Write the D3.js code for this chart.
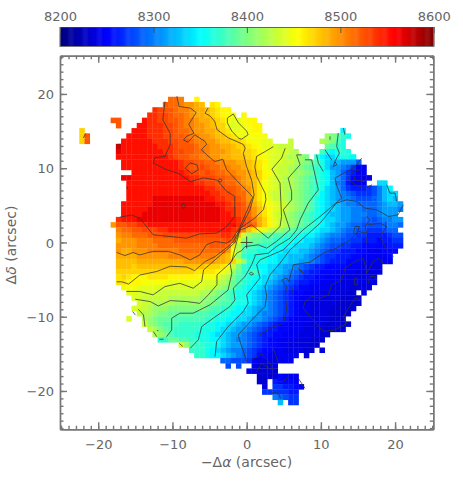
<!DOCTYPE html>
<html>
<head>
<meta charset="utf-8">
<script src="https://d3js.org/d3.v7.min.js"></script>
<style>
  html, body { margin: 0; padding: 0; background: #fff; }
  text { font-family: "DejaVu Sans", sans-serif; font-size: 13px; fill: #666; }
  .title { font-size: 14px; }
</style>
</head>
<body>
<div id="chart"></div>
<script>
//velocity scale of the colour bar
var barTicks = [8200, 8300, 8400, 8500, 8600];
var barDomain = [8200, 8600];
//jet colours and where they sit on the bar (0 to 1)
var jetStops = [0, 0.125, 0.375, 0.5, 0.635, 0.895, 1];
var jetColors = ["#00007f", "#0000ff", "#00ffff", "#7fff7f", "#ffff00", "#ff0000", "#7f0000"];

//offset axes, arcsec
var axisDomain = [-25.15, 25.15];
var majorTicks = [-20, -10, 0, 10, 20];
var minorTicks = d3.range(-25, 26);

//velocity map: each char is one spaxel, looked up in cellKeys / keyVelocity, blank = no data
var cellKeys = "0123456789abcdefghijklmnopqrstuvwxyzABCDE";
var keyVelocity = [8225, 8232, 8238, 8245, 8252, 8260, 8270, 8280, 8290, 8300,
  8312, 8324, 8336, 8348, 8360, 8370, 8380, 8390, 8400, 8410,
  8420, 8430, 8437, 8443, 8450, 8457, 8464, 8472, 8480, 8488,
  8497, 8506, 8515, 8523, 8530, 8540, 8552, 8565, 8575, 8585, 8600];
var gridLeft = -22.55;
var gridTop = 19.62;
var spaxel = 0.7035;
var rowStart = [17, 16, 14, 13, 6, 7, 0, 0, 0, 7, 7, 7, 8, 8, 10, 8, 9, 9, 9, 9, 8, 8, 8, 7, 6,
  7, 7, 7, 7, 7, 7, 7, 7, 7, 7, 7, 8, 9, 10, 11, 10, 11, 9, 12, 13, 14, 15, 19, 21, 22, 27, 28, 32, 34, 34, 35, 35, 37, 38];
var rowCells = [
  "wwv  p",
  "xwwvuuts qp",
  "zyxxwvvuttsrqpp",
  "zzyyxwwvuttsrqpoo p",
  "xx    Azzyyxxwvvuttsrqonnopp",
  "x   AAzzzyyxwvvuutsrrnmnoopp",
  "r         AAAzzzyyxwwvuuttsrqnnoopp               d",
  "rx       AAAAzzzyyxxwvvuutssrqonoooo           jihfe",
  "rx      AAAAAAzzzyyxxwvvuutssrrqpoonn   l     kjige",
  "CAAAAAAAzzzyxxxwvvuuttsrrqponnmlll      hgfe",
  "BAAAAAAAAzzyyxxwwvuuutssrrqponnmmlk    gedefe",
  "AAAAAAAAAAzyxxwwvvuuttsssrqponmmlkkji fdccdeed",
  "AAAAAAAAAAAzyyxxwwvvuuttsrqpnmmllkjihgecbbaaa8",
  "AAAAAAAAAAAzyxxyxwwvvuutsrqonmllkjihgfecaa98633",
  "AAAAAAAAAAzyyxyxwwvvuutsrpomllkjjihfedba86533",
  "BBAAAAAAAAAAAzzyyyxxwwvutsrpnmlkkjihgfedba864322",
  "AAAAAAAAAAAAAzzyyxxwwvutsqonmlkkjihgfedb985333  cc",
  "AAAAAAAAAAAAAAAzzyyxxwvusqonmlkkjihgfecba86555679bd",
  "AAAAAAAAAAAAAAAAzzyyxwwusqomllkjjihgfdcba98766679bcc",
  "AAAAABBBBBBBBBBAAzzyyxwusqonllkjjihgedcba99877789bcb",
  "AAAAAABBBBBBBBBBBBAAzyyxvtrponmlkjihgedcbba9988889abba",
  "AAAAABBBBBBBBBBBBBBAzzyxwusqonmlkjihgedccbaa998889aaa9",
  "AAAABBBBBBBBBBBBBBBAAzyxwusqomlkjihgfedcbbaa999889aaa",
  "zAAABBBBBBBBBBBBBBBBAAAzyxvtrpnlkjihgfedccbaa99887899aa",
  "uxxyyzzAAAAAAAAAAAAAAAAAzyxwtrpnlkjihgfedcbaa98877778998",
  "vwwxxyyyzzAAAAAAAAAAAAzyvsqonlkjihgffedccba98877666788",
  "uvvwwwxxxyyyyyyyyyyyzzysljiihhggffeeddcba99877665555677",
  "tuuuvvvwwwwxxxxxxxxxxywnjihhggffeeddccba988776655545566",
  "uuuuvvvvwwwwwwwwwwxxxwqkhggfffeeddcccba9877665544444555",
  "uttuuuvvvvvvwwwwwwwwwuokgffeeeddcccbba9876655544333444",
  "ttttuuuuuuvvvvvvvvvutsnjfeeeeddccbbba9876655544333334",
  "sssstttttttttuuuuuuttsrmjfeeeddccbbaa9876555444333333",
  "sssrsssssssssssssrrrqolifeeddccbaa98765544443332222",
  "rrrrrrrrrrrrrrrqqqqpomjhffgedcbba987655444333322222",
  "qrqpppqqqqppppppooonlkigfeedccba987655443333222222",
  "qqpppooooonnnnnnnmmlkjhgfeddcba9876554433332222222",
  "poonnnnmmmmmmmmmllkjihfeddcba9876544333322221222",
  "nnmmmmllllllllkkjihgfeedcba98765443332222211 2",
  "mmlllllkkkkkkjjihhgfeedcba987654333222221111",
  "mllkkkkjjjjjjiihggfeedcba987654332222211111",
  "mmlkjjjiiiiiiihggffeddcbaa98765433222211111",
  "lkkjiihhhhhgggffeeddccba99876543322221111",
  "m  kjihhhggggggffeeddccbaa9876543332222111",
  "ljihgggfffffeeddccbaa9876544333222211111",
  "lkihgfffffeeedccbaa9876554433322221111",
  "kjigffffeeedccbaa98765544333222211",
  "ffhhggffeeddcba99876544333222111",
  "mjgffeedcbaa987654433222211",
  "fffedcba9987654433222211 2",
  "ffeddcba987644323333 2",
  "88777632222333",
  "7 7  21112",
  "321111",
  "11114333",
  "11 54443",
  "2 665543",
  "6666655",
  "98766",
  "b 66"
];

//iso-velocity lines: x,y pairs in arcsec
var contourLines = [
  [-9.4,19.7,-9.1,18.3,-7.6,18.1,-6.8,17.5,-7.8,15.9,-7.1,14.7,-8.1,14.3,-8.5,13.8,-7.9,13.5,-7,14.5,-5.6,13.6,-5.4,13.2,-6.1,12.5,-5.4,11.8,-4.3,10.9,-3.2,11.2,-2.7,9.8,-1.4,8.4,.4,6.6,.8,6.1,.2,4.6,-.9,2.1,-2,.35,-2.7,-.1,-4.26,.13,-5.4,-.3,-6.3,-1.67,-7.6,-2.35,-9,-1.67,-10.55,-1.2,-12.6,-1.2,-14.4,-1.67,-15.3,-1.36,-16.4,-1.76,-17.5,-1.36],
  [-5.2,18.1,-5.6,17.4,-4.9,17,-4.3,16.3,-4,15.2,-2.5,14.1,-.45,13.2,-.2,12.7,-.45,12,0,10.2,.67,8.4,1,6.4,.45,4.4,-.7,2.15,-1.8,.13,-2.5,-.55,-4.26,-1.9,-5.6,-2.57,-7,-3.8,-8.1,-3.3,-10.3,-3.2,-12.1,-3.9,-14.4,-4.4,-15.9,-5.6,-16.8,-5.3,-17.5,-5.3],
  [-11,19,-11.3,16.5,-10.3,14.7,-10.3,13.2,-11,11.6,-12.35,11.4,-12.6,10.7,-10.8,9.8,-9.2,9.3,-7.6,8.2,-5.8,8.7,-4,8.4,-2.7,6.9,-1.6,6.2,-1.6,3.5,-2.7,2.15,-4,1.25,-6.3,1.16,-8.1,.58,-10.3,.8,-12.6,1.03,-14.4,3.27,-15.5,3.7,-17.1,3.4],
  [-8.3,10,-7.6,10.7,-6.7,10.45,-6.5,9.8,-7.4,9.25,-8.3,10],
  [-2.6,16.75,-1.8,17.3,-1.1,16.1,0,15,.2,14.5,-.7,13.9,-1.1,14.05,-2,15,-2.6,16.1,-2.6,16.75],
  [3.6,12.9,2.5,12.25,1.35,11.6,1.1,10.2,1.35,8.9,2.5,6.6,2.6,5.75,2.25,4.4,1.1,3.3,-.2,2.37,-.9,1.9,-1.57,0,-2.7,-1,-4.26,-2.35,-5.8,-3.7,-6.06,-5.27,-7.2,-6.16,-9,-5.5,-11,-5.94,-12.6,-7.06,-14.4,-6.6,-16.2,-6.6],
  [5.2,12.7,4.7,11.36,3.4,9.87,4.5,8,4.7,3.5,4.5,2.15,2.9,.57,1.8,1.47,.67,2.37,-.2,1.9,-.9,1.7,-1.57,-.77,-2,-2.57,-4,-4.37,-4,-5.7,-5.16,-7.06,-6.3,-8.2,-8.1,-7.96,-10.3,-7.83,-11.9,-8.55,-13,-7.96,-15,-7.65],
  [7.4,11.8,6.74,11.8,7.2,10.46,5.6,8.66,6.06,6.87,6.06,5.74,4.94,4.4,5.84,1.7,4,.13,2.7,-.77,1.57,-.32,-.22,-.55,-.67,-1.09,-1.34,-1.45,-2.24,-2.8,-2,-4.14,-2.5,-6.4,-4.94,-8.4,-7.2,-9.53,-9,-9.53,-10.1,-10.2,-10.1,-11.8,-10.8,-12.7],
  [7.86,11.13,8.76,11.13,9.66,7.09,8.3,5.3,7.2,3.05,6.74,1.7,5.84,.57,4,-.55,2.92,-1.45,1.12,-1.67,1.12,-1.9,.67,-3.02,-.23,-4.6,-1.8,-6.16,-1.57,-7.73,-2.25,-8.63,-4.5,-10.2,-6.06,-11.33,-6.5,-13.1,-7.6,-14.25],
  [15.5,11.36,14.6,10.2,11.9,8.66,12.1,7.77,12.8,5.97,11.2,4.6,9.9,3.5,7.6,1.7,4.94,-1,1.8,-2.35,1.35,-3,1.8,-4.8,0,-7.06,.2,-8.18,-.45,-9.3,-2.47,-11.3,-4.05,-13.35,-4.26,-15.37],
  [21.1,5.07,20.4,3.72,19.1,3.5,17.5,4.4,15.95,4.62,14.8,5.52,13.5,5.74,12.1,5.3,11,3.94,9.9,2.6,8.1,1,5.84,-1,4.5,-2.8,3.14,-4.36,2.47,-5.94,2.7,-7.28,2.47,-8.63,.9,-10.2,-1.13,-12.45,-.9,-13.35,-.5,-14.47,0,-16.04],
  [16.17,3.5,16.6,3.05,15.95,2.15,16.17,1.25,15.05,1.48,13.93,.35,12.13,-.77,10.33,-1.44,8.54,-2.66,6.3,-3,5.7,-5.26,5.4,-4.8,4.7,-5.04,5.4,-5.94,5.2,-7.06,5.4,-9.08,4.94,-10.88,3.14,-11.55,1.8,-12.45,3.6,-14.25,4.27,-16.27],
  [18.42,-2.79,17.75,-2.12,17.07,-2.57,16.17,-4.14,15.95,-3.02,15.73,-2.12,14.6,-2.57,13.25,-3.47,12.8,-5.04,11.46,-5.71,11,-7.06,9.89,-7.5,8.76,-7.28,7.86,-7.96,7.64,-8.86,8.54,-9.98,10.33,-12,11.9,-11.78,13.48,-10.88,13.03,-9.98,14.6,-7.5,15.3,-7.73],
  [16.4,2.37,17.97,2.6,18.87,2.15,17.97,.8,18.87,-1,19.77,-1.9],
  [15.5,9.87,14.4,9.56,13.7,8.66,14.6,7.77,15.95,7.31,16.9,7.77],
  [14.4,9.11,14.6,8.44,15.95,8.21],
  [9.43,11.8,9.66,10.68,10.33,9.56],
  [10.56,12.48,11.45,11.13],
  [12.35,14.73,12.13,12.93,12.5,12.03,11.9,10.91,11.68,10.23,12.13,10.46,11.9,10.91],
  [13.03,15.4,13.25,14.5],
  [11.23,14.28,11.23,13.83],
  [18.87,7.77,19.3,6.64,20,6.64,20.2,5.52],
  [.67,-15.8,2,-15,3.14,-16.3,3.6,-17.2],
  [1.35,-17.4,2.02,-16.27,3.37,-17.17],
  [3.6,-18.74,4.94,-18.74,5.6,-18.07],
  [6.96,-18.3,7.86,-19.64],
  [3.37,-20.23,4.27,-20.3,4.58,-21],
  [-14.6,-9,-13.9,-9.76,-13.7,-11.33],
  [-15.36,-9.3,-15,-9.76],
  [-12.57,-12,-12.1,-12.7],
  [-11.76,-13.04,-11.2,-13.04],
  [-9.07,-13.6,-8.6,-14],
  [6.96,-3.46,7.77,-4.27],
  [6.2,-6.16,6.3,-7.06],
  [7.19,-3.7,7.64,-4.14],
  [16.1,.8,16.1,-.1],
  [18.73,2.82,18.73,1.92],
  [-17.4,12.93,-17.1,13.3],
  [-22,14.06,-21.7,14.64],
  [-16.1,7.54,-16.1,7.18],
  [-1.75,2.24,-1.45,2.24],
  [-12.1,-11.87,-11.9,-11.87],
  [17.2,5.74,17.4,5.74]
];
//the tiny closed loops
var contourLoops = [
  [-3.8,8.35,-3.6,8.6,-3.3,8.35,-3.6,8.1,-3.8,8.35],
  [-8.8,4.94,-8.5,5.3,-8.2,4.94,-8.5,4.55,-8.8,4.94],
  [.36,-4.18,.67,-4,.94,-4.27,.58,-4.41,.36,-4.18],
  [14.56,-4.81,14.92,-4.81,14.92,-5.71,14.56,-5.71,14.56,-4.81],
  [14.6,2.15,15.2,2.15,14.8,1.16,14.4,1.25,14.6,2.15],
  [16.4,-5.5,16.6,-4.6,17.3,-4.6,17.5,-5.04]
];

//the small cross at the centre
var centreMark = [0, 0];

var width = 463;
var height = 486;
var axisColor = "#777";

var svg = d3.select("#chart").append("svg")
    .attr("width", width)
    .attr("height", height)
    .style("display", "block");

var x = d3.scaleLinear().domain(axisDomain).range([60, 433.3]);
var y = d3.scaleLinear().domain(axisDomain).range([429.2, 55.7]);
var jet = d3.scaleLinear().domain(jetStops).range(jetColors);

//turn the rows into spaxels
var cells = [];
rowCells.forEach(function(row, j) {
  row.split("").forEach(function(ch, k) {
    if (ch !== " ") {
      cells.push({ col: rowStart[j] + k, row: j, vel: keyVelocity[cellKeys.indexOf(ch)] });
    }
  });
});

function barFraction(v) {
  return (v - barDomain[0]) / (barDomain[1] - barDomain[0]);
}

svg.append("g")
  .selectAll("rect")
  .data(cells)
  .enter()
  .append("rect")
    .attr("x", function(d) { return x(gridLeft + d.col * spaxel); })
    .attr("y", function(d) { return y(gridTop - d.row * spaxel); })
    .attr("width", x(spaxel) - x(0) + 0.3)
    .attr("height", y(0) - y(spaxel) + 0.3)
    .attr("fill", function(d) { return jet(barFraction(d.vel)); });

//pairs up a flat x,y list
function toPoints(flat) {
  var pts = [];
  for (var i = 0; i < flat.length; i += 2) pts.push([flat[i], flat[i + 1]]);
  return pts;
}

var line = d3.line()
    .x(function(d) { return x(d[0]); })
    .y(function(d) { return y(d[1]); });

svg.append("g")
  .selectAll("path")
  .data(contourLines.concat(contourLoops))
  .enter()
  .append("path")
    .attr("d", function(d) { return line(toPoints(d)); })
    .attr("fill", "none")
    .attr("stroke", "#333")
    .attr("stroke-opacity", 0.85)
    .attr("stroke-width", 0.9);

//centre cross
svg.append("path")
    .attr("d", "M" + (x(centreMark[0]) - 6) + "," + y(centreMark[1]) + "h12M" + x(centreMark[0]) + "," + (y(centreMark[1]) - 6) + "v12")
    .attr("fill", "none")
    .attr("stroke", "#333")
    .attr("stroke-width", 0.9);

//frame, major and minor ticks on all four sides
function addAxis(gen, tx, ty, ticks, size, showLabels) {
  var g = svg.append("g")
      .attr("transform", "translate(" + tx + "," + ty + ")")
      .call(gen.tickValues(ticks).tickSize(size).tickSizeOuter(0));
  g.selectAll("path, line").attr("stroke", axisColor).attr("stroke-width", 1.4);
  g.selectAll("text").attr("fill", null);
  g.attr("font-family", null).attr("font-size", null);
  if (!showLabels) g.selectAll("text").remove();
  return g;
}

var bottomAxis = addAxis(d3.axisBottom(x).tickFormat(d3.format("d")), 0, y.range()[0], majorTicks, -7, true);
bottomAxis.selectAll("text").attr("y", 16).attr("dy", "0.32em");
addAxis(d3.axisTop(x), 0, y.range()[1], majorTicks, -7, false);
var leftAxis = addAxis(d3.axisLeft(y).tickFormat(d3.format("d")), x.range()[0], 0, majorTicks, -7, true);
leftAxis.selectAll("text").attr("x", -6).attr("dy", "0.36em").attr("text-anchor", "end");
addAxis(d3.axisRight(y), x.range()[1], 0, majorTicks, -7, false);

addAxis(d3.axisBottom(x), 0, y.range()[0], minorTicks, -3.5, false);
addAxis(d3.axisTop(x), 0, y.range()[1], minorTicks, -3.5, false);
addAxis(d3.axisLeft(y), x.range()[0], 0, minorTicks, -3.5, false);
addAxis(d3.axisRight(y), x.range()[1], 0, minorTicks, -3.5, false);

//axis titles
var xTitle = svg.append("text")
    .attr("class", "title")
    .attr("x", 246.5)
    .attr("y", 467)
    .attr("text-anchor", "middle");
xTitle.append("tspan").text("\u2212\u0394");
xTitle.append("tspan").attr("font-style", "italic").text("\u03b1");
xTitle.append("tspan").text(" (arcsec)");

var yTitle = svg.append("text")
    .attr("class", "title")
    .attr("transform", "translate(16,245) rotate(-90)")
    .attr("text-anchor", "middle");
yTitle.append("tspan").text("\u0394");
yTitle.append("tspan").attr("font-style", "italic").text("\u03b4");
yTitle.append("tspan").text(" (arcsec)");

//colour bar on top
var bar = d3.scaleLinear().domain(barDomain).range([60, 433.8]);
svg.append("g")
  .selectAll("rect")
  .data(d3.range(barDomain[0], barDomain[1], 1))
  .enter()
  .append("rect")
    .attr("x", function(d) { return bar(d); })
    .attr("y", 27)
    .attr("width", bar(1) - bar(0) + 0.5)
    .attr("height", 19)
    .attr("fill", function(d) { return jet(barFraction(d)); });

var barAxis = svg.append("g")
    .attr("transform", "translate(0,27)")
    .call(d3.axisTop(bar).tickValues(barTicks).tickSize(-6).tickSizeOuter(0).tickFormat(d3.format("d")));
barAxis.select("path").attr("stroke", "#444").attr("stroke-width", 0.8);
barAxis.selectAll("line").attr("stroke", "#444").attr("stroke-width", 0.8);
barAxis.selectAll("text").attr("fill", null).attr("y", -6).attr("dy", 0);
barAxis.attr("font-family", null).attr("font-size", null);

svg.append("path")
    .attr("d", "M60,27V46.5H433.8V27")
    .attr("fill", "none")
    .attr("stroke", axisColor)
    .attr("stroke-width", 1.2);
</script>
</body>
</html>
